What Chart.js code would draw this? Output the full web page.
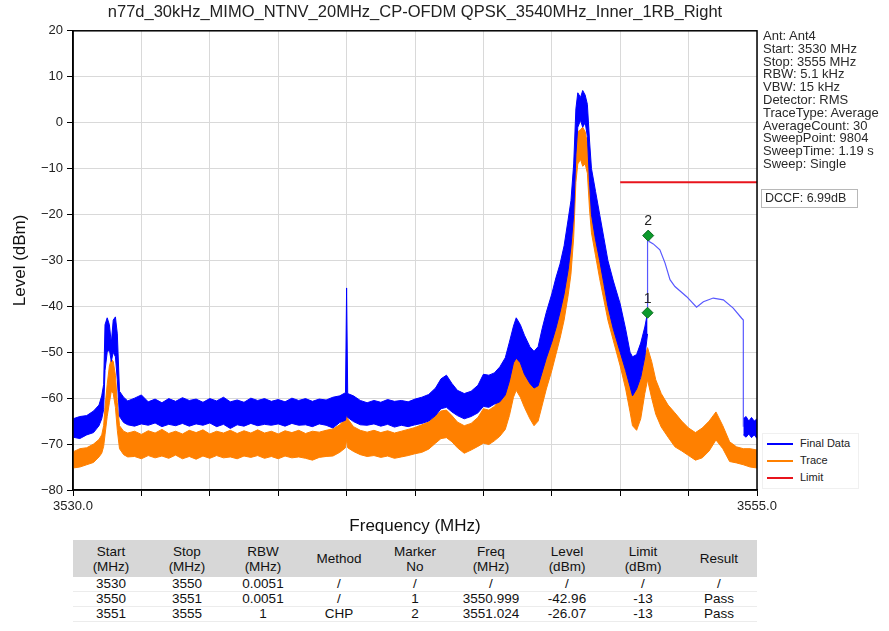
<!DOCTYPE html>
<html>
<head>
<meta charset="utf-8">
<script src="https://cdn.jsdelivr.net/npm/chart.js@4.4.0/dist/chart.umd.min.js"></script>
<style>
body{margin:0;background:#fff;font-family:"Liberation Sans",Arial,sans-serif;}
#wrap{position:relative;width:889px;height:631px;overflow:hidden;background:#fff}
#chart{position:absolute;left:0;top:0}
#info{position:absolute;left:763px;top:30px;font-size:13px;line-height:12.8px;color:#2a2a2a;white-space:nowrap}
#dccf{position:absolute;left:761px;top:189px;width:92px;height:17px;border:1px solid #b8b8b8;font-size:12.5px;line-height:17px;padding-left:3px;color:#2a2a2a}
#legend{position:absolute;left:762px;top:433px;width:95px;height:54px;background:#fff;border:1px solid #f0f0f0}
.lg{position:absolute;left:4px;width:90px;height:17px;font-size:11px;line-height:17px;color:#222}
.lg span{position:absolute;left:0;top:8px;width:26px;height:1.5px}
.lg b{position:absolute;left:33px;font-weight:normal;white-space:nowrap}
#tbl{position:absolute;left:73px;top:540px;width:684px;border-collapse:collapse;table-layout:fixed;font-size:13.5px;color:#111}
#tbl th{background:#d7d7d7;font-weight:normal;height:37px;line-height:15px;padding:0}
#tbl td{height:14px;line-height:14px;padding:0;text-align:center;border-bottom:1px solid #ececec}
</style>
</head>
<body>
<div id="wrap">
  <canvas id="chart" width="889" height="540"></canvas>
  <div id="info"></div>
  <div id="dccf"></div>
  <div id="legend"></div>
  <table id="tbl"><thead><tr id="thead"></tr></thead><tbody id="tbody"></tbody></table>
</div>
<script>
// ---- data ----
var chartTitle = "n77d_30kHz_MIMO_NTNV_20MHz_CP-OFDM QPSK_3540MHz_Inner_1RB_Right";

// Final Data (blue), noise band: upper / lower edge, 3530 .. 3551 MHz
var finalFreq = [3530, 3530.25, 3530.5, 3530.75, 3530.95, 3531.05, 3531.12, 3531.17, 3531.25, 3531.33,
  3531.4, 3531.47, 3531.55, 3531.62, 3531.7, 3531.85, 3532, 3532.25, 3532.5, 3532.75,
  3533, 3533.25, 3533.5, 3533.75, 3534, 3534.25, 3534.5, 3534.75, 3535, 3535.25,
  3535.5, 3535.75, 3536, 3536.25, 3536.5, 3536.75, 3537, 3537.25, 3537.5, 3537.75,
  3538, 3538.25, 3538.5, 3538.75, 3539, 3539.25, 3539.5, 3539.75, 3539.96, 3540,
  3540.04, 3540.25, 3540.5, 3540.75, 3541, 3541.25, 3541.5, 3541.75, 3542, 3542.25,
  3542.5, 3542.75, 3543, 3543.25, 3543.45, 3543.65, 3543.85, 3544.05, 3544.3, 3544.55,
  3544.8, 3545, 3545.2, 3545.4, 3545.6, 3545.8, 3545.95, 3546.1, 3546.2, 3546.35,
  3546.5, 3546.7, 3546.85, 3547, 3547.15, 3547.3, 3547.5, 3547.65, 3547.8, 3547.95,
  3548.1, 3548.2, 3548.3, 3548.38, 3548.45, 3548.55, 3548.63, 3548.72, 3548.8, 3548.88,
  3548.95, 3549.1, 3549.25, 3549.4, 3549.55, 3549.75, 3550, 3550.2, 3550.36, 3550.45,
  3550.6, 3550.75, 3550.9, 3551];
var finalHigh = [-64.5, -64.0, -63.8, -62.8, -61.5, -59.5, -57.0, -44.0, -42.5, -44.0,
  -48.0, -43.0, -42.3, -46.0, -58.5, -59.8, -60.6, -60.0, -59.3, -60.8,
  -60.2, -61.0, -60.1, -60.7, -59.9, -60.5, -60.2, -60.9, -60.1, -60.6,
  -59.8, -60.8, -60.4, -60.9, -60.0, -60.5, -60.1, -60.7, -60.3, -60.8,
  -60.0, -60.5, -60.1, -60.7, -60.2, -60.4, -59.8, -59.5, -58.8, -36.0,
  -59.0, -59.5, -60.5, -61.0, -60.5, -60.9, -60.3, -60.7, -60.5, -60.8,
  -60.2, -59.8, -59.2, -57.8, -55.8, -55.0, -56.8, -58.3, -59.0, -58.5,
  -57.2, -54.8, -55.0, -54.5, -53.2, -51.2, -47.8, -44.3, -42.5, -44.0,
  -46.3, -48.8, -49.8, -48.8, -44.8, -41.3, -37.3, -33.8, -30.8, -26.8,
  -21.0, -17.0, -9.0, 3.0, 6.5, 5.5, 7.0, 6.0, 4.0, -4.0,
  -10.0, -15.0, -20.0, -25.0, -30.0, -34.5, -39.5, -45.0, -50.0, -51.0,
  -50.5, -48.0, -44.5, -41.4];
var finalLow = [-68.5, -68.8, -68.0, -67.5, -66.0, -64.5, -62.5, -54.0, -50.0, -49.5,
  -52.0, -50.0, -51.0, -56.0, -64.0, -65.3, -65.8, -66.1, -65.6, -65.9,
  -65.4, -66.2, -65.7, -66.0, -65.5, -66.1, -65.6, -65.9, -65.4, -66.2,
  -65.7, -66.6, -65.8, -66.1, -65.5, -66.0, -65.7, -65.9, -65.6, -66.1,
  -65.5, -65.9, -65.8, -66.2, -65.6, -65.9, -66.5, -65.3, -64.8, -63.5,
  -64.2, -65.1, -65.8, -65.9, -65.6, -66.1, -65.7, -66.3, -65.9, -66.2,
  -65.8, -65.5, -65.0, -63.8, -62.3, -62.0, -63.0, -63.8, -64.5, -64.0,
  -63.2, -61.8, -62.0, -61.3, -60.8, -59.3, -56.3, -52.3, -51.3, -52.3,
  -54.8, -56.8, -57.8, -57.3, -54.3, -51.3, -47.8, -44.8, -41.3, -37.3,
  -32.0, -27.0, -20.0, -7.0, -1.0, 0.5, -1.0, 0.0, -3.0, -13.0,
  -20.0, -25.5, -30.0, -35.0, -40.0, -45.0, -50.0, -54.0, -57.5, -59.5,
  -58.0, -55.5, -51.0, -46.0];

// Final Data, channel power part (3551 .. 3554.5 MHz)
var chpFreq = [3551, 3551, 3551.06, 3551.21, 3551.45, 3551.64, 3551.82, 3552.0, 3552.43, 3552.79,
  3553.04, 3553.4, 3553.77, 3554.13, 3554.44, 3554.5, 3554.5];
var chpLevel = [-41.4, -24.6, -25.9, -26.4, -27.7, -30.6, -34.2, -35.7, -37.9, -40.2,
  -39.0, -38.2, -38.6, -40.4, -42.6, -43.0, -66.2];

// Final Data, last piece after the CHP segment
var tailFreq = [3554.5, 3554.6, 3554.7, 3554.8, 3554.9, 3555];
var tailHigh = [-64.5, -64.0, -65.0, -64.2, -65.0, -64.5];
var tailLow = [-68.0, -68.5, -67.8, -68.6, -68.0, -68.8];

// Trace (orange), noise band: same points as Final Data, then on to 3555
var traceExtraFreq = [3551.15, 3551.3, 3551.5, 3551.75, 3552, 3552.25, 3552.5, 3552.75, 3553, 3553.25,
  3553.5, 3553.75, 3554, 3554.25, 3554.5, 3554.75, 3555];
var traceHigh = [-71.7, -71.0, -70.8, -70.0, -69.0, -68.0, -66.0, -62.0, -57.0, -53.0,
  -51.5, -52.0, -55.0, -61.0, -66.0, -67.2, -67.6, -67.2, -67.9, -67.1,
  -67.6, -66.8, -67.7, -67.2, -67.8, -67.0, -67.5, -66.9, -67.8, -67.2,
  -67.6, -67.0, -67.7, -67.1, -67.6, -66.9, -67.6, -67.2, -67.8, -67.1,
  -67.5, -67.0, -67.7, -67.2, -67.4, -67.0, -66.7, -65.8, -64.5, -61.5,
  -64.5, -66.2, -67.0, -67.4, -67.0, -67.5, -67.1, -67.6, -67.2, -66.8,
  -66.4, -65.8, -65.2, -63.8, -62.8, -62.6, -63.8, -65.2, -66.0, -65.5,
  -64.2, -62.3, -62.6, -61.8, -60.3, -58.3, -55.3, -51.8, -50.5, -51.5,
  -53.5, -55.5, -56.5, -56.0, -53.0, -49.5, -45.0, -41.5, -38.0, -34.0,
  -28.5, -24.0, -16.0, -5.0, -2.0, -1.5, -1.0, -2.0, -4.5, -11.0,
  -16.0, -20.0, -25.0, -29.5, -34.0, -38.0, -43.5, -49.0, -54.0, -56.5,
  -57.5, -56.0, -51.0, -49.0,
  -52.0, -56.0, -59.0, -61.5, -63.2, -65.0, -66.5, -67.5, -66.5, -65.0,
  -63.0, -66.0, -69.5, -70.6, -71.0, -71.0, -71.3];
var traceLow = [-75.2, -75.0, -74.5, -74.0, -72.8, -72.0, -70.5, -68.0, -64.0, -61.0,
  -58.5, -59.0, -62.0, -67.0, -71.0, -72.3, -72.8, -72.7, -73.2, -72.5,
  -73.0, -72.6, -73.1, -72.4, -73.2, -72.7, -73.3, -72.6, -73.1, -72.5,
  -73.0, -72.8, -73.2, -72.6, -72.9, -72.5, -73.1, -72.7, -73.2, -72.6,
  -73.0, -72.8, -73.1, -73.5, -72.9, -72.7, -72.6, -71.8, -70.8, -69.0,
  -70.8, -71.6, -72.3, -72.7, -72.5, -72.9, -72.6, -73.1, -72.8, -72.5,
  -72.1, -71.8, -71.1, -69.8, -68.8, -68.6, -69.5, -70.8, -72.0, -71.3,
  -70.5, -69.8, -70.1, -69.3, -68.3, -66.8, -63.8, -59.8, -58.3, -59.8,
  -62.0, -64.5, -66.0, -65.0, -61.5, -58.0, -54.0, -50.5, -47.0, -43.0,
  -37.5, -33.0, -25.0, -13.0, -9.0, -8.0, -9.5, -9.0, -11.0, -19.0,
  -24.0, -29.0, -34.0, -38.5, -43.0, -47.5, -53.0, -58.0, -63.0, -66.0,
  -67.0, -64.5, -59.0, -56.0,
  -60.0, -63.5, -66.3, -68.5, -70.6, -71.5, -72.5, -73.5, -73.0, -71.5,
  -69.1, -71.0, -73.8, -74.1, -74.5, -75.0, -75.2];
var traceFreq = finalFreq.concat(traceExtraFreq);

var limitFreq = [3550, 3555];
var limitLevel = [-13, -13];

var markerNo = ["1", "2"];
var markerFreq = [3550.999, 3551.024];
var markerLevel = [-41.4, -24.6];

var xMin = 3530, xMax = 3555, xStep = 2.5;
var yMin = -80, yMax = 20, yStep = 10;

var infoLines = ["Ant: Ant4", "Start: 3530 MHz", "Stop: 3555 MHz", "RBW: 5.1 kHz", "VBW: 15 kHz",
  "Detector: RMS", "TraceType: Average", "AverageCount: 30", "SweepPoint: 9804",
  "SweepTime: 1.19 s", "Sweep: Single"];
var dccfText = "DCCF: 6.99dB";

var legendLabels = ["Final Data", "Trace", "Limit"];
var legendColors = ["#0000ff", "#ff8000", "#e8141c"];

var tableHeader = [["Start", "(MHz)"], ["Stop", "(MHz)"], ["RBW", "(MHz)"], ["Method"], ["Marker", "No"],
  ["Freq", "(MHz)"], ["Level", "(dBm)"], ["Limit", "(dBm)"], ["Result"]];
var tableRows = [
  ["3530", "3550", "0.0051", "/", "/", "/", "/", "/", "/"],
  ["3550", "3551", "0.0051", "/", "1", "3550.999", "-42.96", "-13", "Pass"],
  ["3551", "3555", "1", "CHP", "2", "3551.024", "-26.07", "-13", "Pass"]
];

// ---- side texts and table ----
document.getElementById("info").innerHTML = infoLines.join("<br>");
document.getElementById("dccf").textContent = dccfText;
var lg = document.getElementById("legend");
legendLabels.forEach(function (t, i) {
  var d = document.createElement("div");
  d.className = "lg";
  d.style.top = (1 + i * 17) + "px";
  d.innerHTML = '<span style="background:' + legendColors[i] + '"></span><b>' + t + '</b>';
  lg.appendChild(d);
});
document.getElementById("thead").innerHTML = tableHeader.map(function (h) {
  return "<th>" + h.join("<br>") + "</th>";
}).join("");
document.getElementById("tbody").innerHTML = tableRows.map(function (r) {
  return "<tr>" + r.map(function (c) { return "<td>" + c + "</td>"; }).join("") + "</tr>";
}).join("");

// ---- chart ----
function xy(xs, ys) {
  return xs.map(function (x, i) { return {x: x, y: ys[i]}; });
}
var blue = "#0000ff";
var orange = "#ff8000";

var framePlugin = {
  id: "frame",
  afterDatasetsDraw: function (chart) {
    var ctx = chart.ctx, a = chart.chartArea;
    ctx.save();
    ctx.strokeStyle = "#000";
    ctx.lineWidth = 1.5;
    ctx.strokeRect(a.left, a.top, a.right - a.left, a.bottom - a.top);
    // marker numbers above the diamonds
    ctx.fillStyle = "#222";
    ctx.font = "14px 'Liberation Sans'";
    ctx.textAlign = "center";
    ctx.textBaseline = "middle";
    chart.getDatasetMeta(0).data.forEach(function (pt, i) {
      ctx.fillText(markerNo[i], pt.x, pt.y - 14);
    });
    ctx.restore();
  }
};

var tickFont = {family: "'Liberation Sans'", size: 13};
var titleFont = {family: "'Liberation Sans'", size: 17};

new Chart(document.getElementById("chart"), {
  type: "line",
  data: {
    datasets: [
      {label: "Marker", data: xy(markerFreq, markerLevel), showLine: false, pointStyle: "rectRot",
        pointRadius: 5.5, backgroundColor: "#0c9a2c", borderColor: "#0a6a1e", borderWidth: 1},
      {label: "Limit", data: xy(limitFreq, limitLevel), borderColor: "#e8141c", borderWidth: 2, pointRadius: 0},
      {label: "Final Data CHP", data: xy(chpFreq, chpLevel), borderColor: "rgba(70,70,255,0.9)",
        borderWidth: 1.2, pointRadius: 0},
      {label: "Final Data", data: xy(finalFreq, finalHigh), borderColor: blue, backgroundColor: blue,
        borderWidth: 1, pointRadius: 0, fill: 4},
      {label: "Final Data low", data: xy(finalFreq, finalLow), borderColor: blue, borderWidth: 1, pointRadius: 0, fill: false},
      {label: "Final Data tail", data: xy(tailFreq, tailHigh), borderColor: blue, backgroundColor: blue,
        borderWidth: 1, pointRadius: 0, fill: 6},
      {label: "Final Data tail low", data: xy(tailFreq, tailLow), borderColor: blue, borderWidth: 1, pointRadius: 0, fill: false},
      {label: "Trace", data: xy(traceFreq, traceHigh), borderColor: orange, backgroundColor: orange,
        borderWidth: 1, pointRadius: 0, fill: 8},
      {label: "Trace low", data: xy(traceFreq, traceLow), borderColor: orange, borderWidth: 1, pointRadius: 0, fill: false}
    ]
  },
  options: {
    responsive: false,
    animation: false,
    layout: {padding: {left: 0, right: 132, top: 0, bottom: 0}},
    plugins: {
      legend: {display: false},
      tooltip: {enabled: false},
      title: {
        display: true, text: chartTitle, fullSize: false, color: "#222",
        font: {family: "'Liberation Sans'", size: 16.5, weight: "normal"},
        padding: {top: 3, bottom: 8}
      }
    },
    scales: {
      x: {
        type: "linear", min: xMin, max: xMax,
        afterFit: function (s) { s.height = 50; },
        ticks: {
          stepSize: xStep, autoSkip: false, maxRotation: 0, color: "#222", font: tickFont, padding: 3,
          callback: function (v) { return (v === xMin || v === xMax) ? v.toFixed(1) : ""; }
        },
        grid: {color: "#d9d9d9", tickColor: "#000", tickLength: 6},
        border: {color: "#000", width: 1.5},
        title: {display: true, text: "Frequency (MHz)", color: "#111", font: titleFont, padding: {top: 0, bottom: 3}}
      },
      y: {
        min: yMin, max: yMax,
        afterFit: function (s) { s.width = 73; },
        ticks: {
          stepSize: yStep, color: "#222", font: tickFont, padding: 4,
          callback: function (v) { return String(v).replace("-", "\u2212"); }
        },
        grid: {color: "#d9d9d9", tickColor: "#000", tickLength: 6},
        border: {color: "#000", width: 1.5},
        title: {display: true, text: "Level (dBm)", color: "#111", font: titleFont, padding: {top: 10, bottom: 0}}
      }
    }
  },
  plugins: [framePlugin]
});
</script>
</body>
</html>
